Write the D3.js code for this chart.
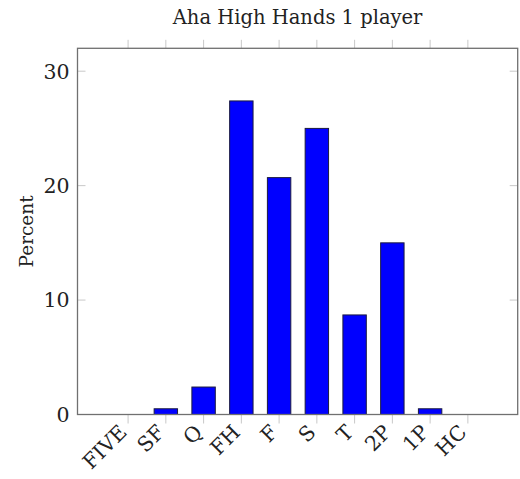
<!DOCTYPE html>
<html>
<head>
<meta charset="utf-8">
<script src="https://cdn.jsdelivr.net/npm/d3@7"></script>
<style>
  html, body { margin: 0; padding: 0; background: #fff; }
  svg { display: block; }
  text { font-family: "DejaVu Serif", "Liberation Serif", serif; fill: #222; }
</style>
</head>
<body>
<svg id="chart" width="520" height="479"></svg>
<script>
const title = "Aha High Hands 1 player";
const yLabel = "Percent";
const categories = ["FIVE", "SF", "Q", "FH", "F", "S", "T", "2P", "1P", "HC"];
const values = [0, 0.5, 2.4, 27.4, 20.7, 25.0, 8.7, 15.0, 0.5, 0];
const yTicks = [0, 10, 20, 30];

const svg = d3.select("#chart");
const pLeft = 77.5, pRight = 517.7, pTop = 48.3, pBottom = 414.5;

const x = d3.scaleLinear().domain([-1.34, categories.length - 1 + 1.32]).range([pLeft, pRight]);
const y = d3.scaleLinear().domain([0, 32]).range([pBottom, pTop]);
const barW = 0.62;

// bars
svg.append("g").selectAll("rect").data(values).join("rect")
  .attr("x", (d, i) => x(i - barW / 2))
  .attr("width", (d, i) => x(i + barW / 2) - x(i - barW / 2))
  .attr("y", d => y(d))
  .attr("height", d => y(0) - y(d))
  .attr("fill", "#0000ff")
  .attr("stroke", "#1a1a40")
  .attr("stroke-width", 1);

// y ticks (inside, both sides)
const tickCol = "#c8c8c8";
svg.append("g").selectAll("line").data(yTicks).join("line")
  .attr("x1", pLeft).attr("x2", pLeft + 8)
  .attr("y1", d => y(d)).attr("y2", d => y(d))
  .attr("stroke", tickCol).attr("stroke-width", 1);
svg.append("g").selectAll("line").data(yTicks).join("line")
  .attr("x1", pRight - 8).attr("x2", pRight)
  .attr("y1", d => y(d)).attr("y2", d => y(d))
  .attr("stroke", tickCol).attr("stroke-width", 1);

// x ticks (outside, top and bottom)
const idx = d3.range(categories.length);
svg.append("g").selectAll("line").data(idx).join("line")
  .attr("x1", d => x(d)).attr("x2", d => x(d))
  .attr("y1", pTop - 8.5).attr("y2", pTop)
  .attr("stroke", tickCol).attr("stroke-width", 1);
svg.append("g").selectAll("line").data(idx).join("line")
  .attr("x1", d => x(d)).attr("x2", d => x(d))
  .attr("y1", pBottom).attr("y2", pBottom + 9)
  .attr("stroke", tickCol).attr("stroke-width", 1);

// frame
svg.append("rect")
  .attr("x", pLeft).attr("y", pTop)
  .attr("width", pRight - pLeft).attr("height", pBottom - pTop)
  .attr("fill", "none").attr("stroke", "#707070").attr("stroke-width", 1.3);

// y tick labels
svg.append("g").selectAll("text").data(yTicks).join("text")
  .attr("x", pLeft - 8).attr("y", d => y(d))
  .attr("dy", "0.36em")
  .attr("text-anchor", "end")
  .attr("font-size", 20.5)
  .text(d => d);

// x tick labels rotated
svg.append("g").selectAll("text").data(categories).join("text")
  .attr("transform", (d, i) => `translate(${x(i)},${pBottom + 19}) rotate(-45)`)
  .attr("text-anchor", "end")
  .attr("font-size", 20.5)
  .text(d => d);

// title
svg.append("text")
  .attr("x", (pLeft + pRight) / 2).attr("y", 24)
  .attr("text-anchor", "middle")
  .attr("font-size", 19.5)
  .text(title);

// y label
svg.append("text")
  .attr("transform", `translate(33,${(pTop + pBottom) / 2}) rotate(-90)`)
  .attr("text-anchor", "middle")
  .attr("font-size", 18.5)
  .text(yLabel);
</script>
</body>
</html>
